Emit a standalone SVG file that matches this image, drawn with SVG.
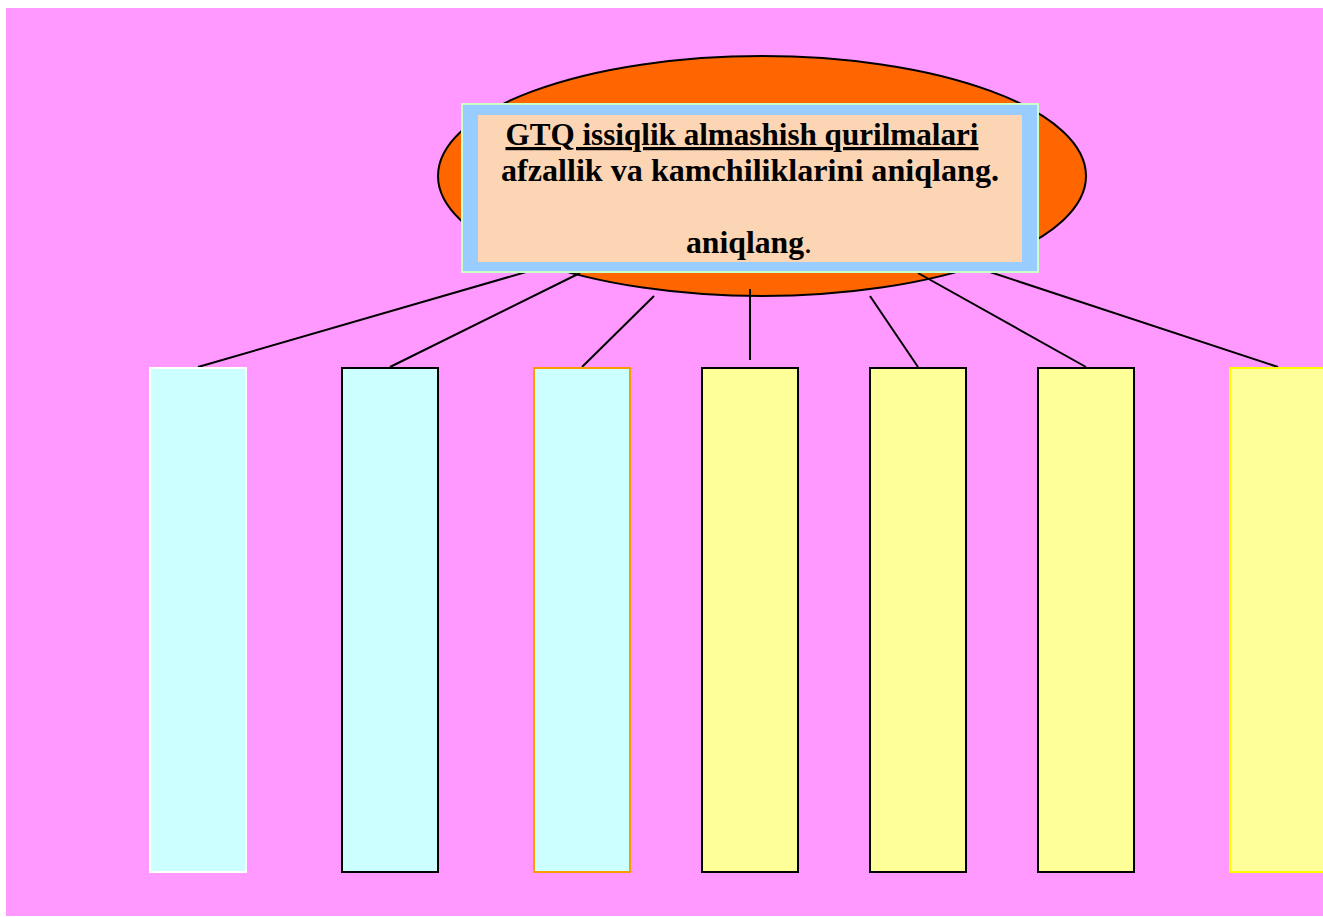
<svg xmlns="http://www.w3.org/2000/svg" width="1323" height="917" viewBox="0 0 1323 917">
<style>
.conn line{stroke:#000;stroke-width:2}
.box{stroke-width:2}
.cyan{fill:#CCFFFF}
.yel{fill:#FFFF99}
.t{font-family:"Liberation Serif","Times New Roman",serif;font-weight:bold;font-size:32px;fill:#000;text-anchor:middle}
</style>
<rect x="0" y="0" width="1323" height="917" fill="#fff"/>
<rect x="6" y="8" width="1317" height="908" fill="#FF99FF"/>
<g id="hub">
<ellipse cx="762" cy="176" rx="324" ry="120" fill="#FF6600" stroke="#000" stroke-width="2"/>
</g>
<g class="conn" id="connectors">
<line x1="533" y1="270" x2="198" y2="367"/>
<line x1="580" y1="273" x2="390" y2="367"/>
<line x1="654" y1="296" x2="582" y2="367"/>
<line x1="750" y1="289" x2="750" y2="360"/>
<line x1="870" y1="296" x2="918" y2="367"/>
<line x1="918" y1="273" x2="1086" y2="367"/>
<line x1="990" y1="272" x2="1278" y2="367"/>
</g>
<g id="title">
<rect x="462" y="104" width="576" height="168" fill="#99CCFF" stroke="#CCFFCC" stroke-width="2"/>
<rect x="478" y="115" width="544" height="147" fill="#FCD5B5"/>
<text class="t" x="742" y="145" text-decoration="underline" textLength="473" lengthAdjust="spacingAndGlyphs">GTQ issiqlik almashish qurilmalari</text>
<text class="t" x="750" y="181" textLength="498" lengthAdjust="spacingAndGlyphs">afzallik va kamchiliklarini aniqlang.</text>
<text class="t" x="749" y="253" textLength="126" lengthAdjust="spacingAndGlyphs">aniqlang<tspan font-weight="normal">.</tspan></text>
</g>
<g id="box1"><rect class="box cyan" x="150" y="368" width="96" height="504" stroke="#FFFFFF"/></g>
<g id="box2"><rect class="box cyan" x="342" y="368" width="96" height="504" stroke="#000"/></g>
<g id="box3"><rect class="box cyan" x="534" y="368" width="96" height="504" stroke="#FF9900"/></g>
<g id="box4"><rect class="box yel" x="702" y="368" width="96" height="504" stroke="#000"/></g>
<g id="box5"><rect class="box yel" x="870" y="368" width="96" height="504" stroke="#000"/></g>
<g id="box6"><rect class="box yel" x="1038" y="368" width="96" height="504" stroke="#000"/></g>
<g id="box7"><rect class="box yel" x="1230" y="368" width="120" height="504" stroke="#FFFF00"/></g>
</svg>
